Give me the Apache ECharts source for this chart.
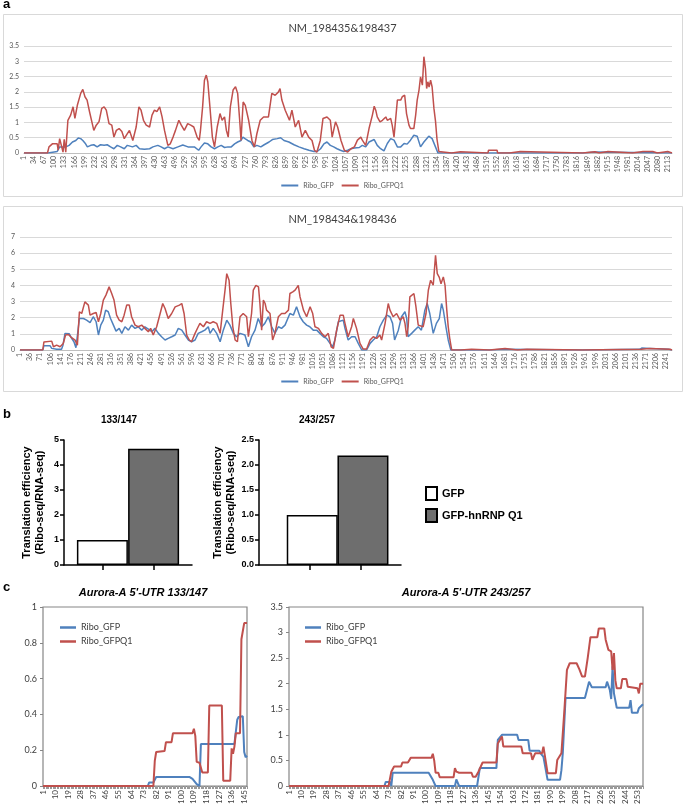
<!DOCTYPE html>
<html><head><meta charset="utf-8">
<script src="https://cdn.jsdelivr.net/npm/echarts@6/dist/echarts.min.js"></script>
<style>html,body{margin:0;padding:0;background:#fff}#c{width:685px;height:808px}</style>
</head><body><div id="c"></div>
<script>
// ---------- category counts ----------
const topLen = 2127, botLen = 2262, cLeftLen = 147, cRightLen = 257;

// ---------- panel a, NM_198435&198437 : [position, value] ----------
const topRiboGFP = [[1,0],[80,0],[83,0.05],[110,0.05],[113,0.04],[118,0.2],[138,0.2],[149,0.25],[160,0.36],[171,0.41],[179,0.49],[187,0.47],[194,0.41],[203,0.3],[209,0.2],[220,0.25],[230,0.27],[241,0.2],[252,0.27],[264,0.25],[274,0.27],[285,0.2],[296,0.14],[307,0.25],[318,0.2],[330,0.14],[340,0.25],[357,0.2],[369,0.25],[380,0.14],[396,0.12],[413,0.14],[424,0.2],[440,0.25],[451,0.2],[462,0.14],[473,0.2],[490,0.14],[506,0.2],[522,0.26],[539,0.2],[544,0.25],[560,0.2],[574,0.09],[582,0.2],[593,0.33],[604,0.3],[615,0.2],[626,0.14],[637,0.2],[648,0.25],[659,0.18],[670,0.2],[681,0.2],[692,0.3],[702,0.36],[713,0.41],[719,0.52],[726,0.47],[735,0.41],[745,0.36],[755,0.2],[765,0.25],[778,0.2],[789,0.27],[805,0.36],[816,0.44],[832,0.47],[843,0.5],[854,0.41],[870,0.36],[887,0.27],[903,0.2],[920,0.14],[936,0.09],[952,0.05],[963,0.05],[974,0.14],[985,0.3],[995,0.36],[1006,0.25],[1017,0.2],[1028,0.14],[1039,0.09],[1050,0.05],[1063,0.09],[1074,0.14],[1085,0.16],[1101,0.18],[1111,0.25],[1122,0.2],[1133,0.36],[1150,0.44],[1160,0.25],[1171,0.14],[1182,0.07],[1193,0.31],[1204,0.47],[1215,0.42],[1226,0.2],[1237,0.2],[1248,0.31],[1258,0.29],[1269,0.42],[1280,0.58],[1291,0.55],[1302,0.2],[1313,0.36],[1329,0.55],[1340,0.47],[1351,0.2],[1359,0],[1834,0],[1836,0.03],[1874,0.03],[1876,0],[2127,0]];
const topRiboGFPQ1 = [[1,0],[78,0],[83,0.2],[94,0.3],[110,0.3],[113,0.09],[118,0.47],[124,0.45],[129,0.03],[133,0.45],[138,0.03],[145,1.07],[154,1.24],[162,1.51],[168,1.13],[176,1.56],[187,1.95],[194,2.08],[201,1.84],[208,1.73],[216,1.35],[225,0.96],[230,0.74],[238,0.91],[247,1.02],[256,1.46],[264,1.51],[271,1.4],[280,0.96],[289,0.91],[296,0.52],[304,0.74],[313,0.8],[322,0.7],[330,0.47],[338,0.6],[347,0.74],[358,0.41],[369,0.85],[378,1.51],[385,1.4],[393,1.07],[402,0.91],[413,0.85],[421,1.24],[429,1.4],[437,1.35],[446,1.51],[454,1.18],[462,0.74],[468,0.47],[473,0.25],[481,0.3],[490,0.52],[498,0.74],[509,1.07],[517,0.91],[527,0.74],[538,0.96],[548,0.91],[558,0.85],[569,0.52],[576,0.41],[580,0.74],[587,1.51],[593,2.38],[599,2.55],[604,2.33],[611,1.51],[619,0.52],[626,0.2],[635,0.85],[644,1.29],[651,1.07],[659,1.18],[665,0.74],[671,0.52],[678,1.51],[687,2.06],[695,2.17],[702,1.95],[709,1.02],[713,0.41],[720,1.67],[727,1.56],[738,1.07],[749,0.41],[757,0.2],[765,0.63],[776,1.07],[787,1.18],[803,1.18],[814,1.95],[825,1.89],[836,2.0],[841,2.11],[847,1.73],[858,1.4],[872,1.07],[880,1.4],[891,0.85],[902,1.07],[913,0.52],[924,0.74],[935,0.52],[946,0.41],[954,0.09],[962,0.03],[973,0.41],[982,1.13],[995,1.18],[1006,1.07],[1012,0.52],[1023,1.02],[1030,0.85],[1041,0.41],[1052,0.09],[1063,0.03],[1074,0.14],[1085,0.2],[1095,0.42],[1106,0.52],[1111,0.42],[1122,0.25],[1133,0.8],[1144,1.24],[1150,1.53],[1155,1.4],[1160,1.18],[1169,1.02],[1177,1.07],[1188,1.18],[1193,1.07],[1204,1.13],[1209,0.91],[1215,0.52],[1220,0.52],[1226,1.73],[1231,1.78],[1237,1.73],[1242,1.84],[1250,1.89],[1256,1.29],[1264,0.91],[1269,0.8],[1280,0.8],[1286,1.24],[1291,1.73],[1297,2.06],[1302,2.49],[1308,2.22],[1313,3.15],[1318,2.77],[1322,2.11],[1326,2.33],[1330,2.16],[1335,2.38],[1340,2.16],[1346,1.45],[1351,1.05],[1356,0.45],[1362,0.05],[1367,0],[1404,0],[1406,0.04],[1433,0.04],[1435,0],[1523,0],[1525,0.09],[1553,0.09],[1555,0],[1594,0],[1596,0.05],[1629,0.05],[1631,0],[1834,0],[1836,0.04],[1874,0.04],[1876,0],[1888,0],[1890,0.05],[1917,0.05],[1919,0],[1997,0],[1999,0.05],[2032,0.05],[2034,0],[2035,0],[2037,0.05],[2064,0.05],[2066,0],[2079,0],[2081,0.05],[2113,0.05],[2115,0],[2127,0]];

// ---------- panel a, NM_198434&198436 ----------
const botRiboGFP = [[1,0],[80,0],[84,0.27],[105,0.27],[111,0.1],[128,0.04],[145,0.04],[150,0.3],[157,1.03],[172,1.0],[180,0.72],[188,0.51],[195,0.14],[200,0.14],[207,1.95],[221,1.95],[232,1.85],[244,1.7],[255,2.06],[265,1.75],[273,0.93],[281,1.54],[290,1.85],[298,2.47],[307,2.37],[315,1.95],[325,1.54],[334,1.17],[345,1.34],[354,1.03],[365,1.44],[377,1.23],[388,1.54],[400,1.34],[411,1.44],[423,1.23],[434,1.44],[446,1.3],[458,1.13],[469,1.34],[481,1.03],[492,0.82],[504,0.62],[515,0.72],[527,0.82],[539,0.93],[550,1.34],[562,1.23],[573,0.93],[585,0.62],[596,0.51],[608,0.62],[619,1.03],[631,1.13],[642,1.23],[654,1.44],[660,1.03],[671,1.34],[683,1.03],[695,0.51],[706,1.23],[718,1.85],[729,1.54],[741,1.03],[752,0.82],[764,1.03],[781,0.93],[793,0.2],[804,0.82],[816,1.23],[827,1.95],[839,1.44],[850,1.65],[862,2.06],[874,1.44],[885,1.03],[897,1.44],[908,1.34],[920,1.54],[937,2.26],[949,2.16],[960,2.68],[972,2.06],[983,1.75],[995,1.54],[1006,1.44],[1018,1.23],[1030,1.23],[1041,1.03],[1053,0.82],[1064,0.72],[1076,0.41],[1085,0.2],[1093,0.62],[1105,1.75],[1122,1.85],[1128,1.34],[1139,0.62],[1151,0.82],[1163,0.82],[1174,0.41],[1186,0],[1203,0],[1215,0.41],[1226,0.62],[1238,0.82],[1249,1.44],[1261,1.85],[1273,2.16],[1284,2.06],[1293,1.65],[1300,0.62],[1313,1.23],[1324,2.06],[1336,2.37],[1342,1.95],[1347,0.82],[1359,1.03],[1370,1.23],[1382,1.44],[1393,1.23],[1405,2.47],[1413,2.88],[1422,2.26],[1434,1.03],[1445,1.65],[1455,1.95],[1463,2.88],[1469,2.47],[1478,1.44],[1486,0.62],[1495,0],[1629,0],[1631,0.05],[1683,0.05],[1685,0],[1951,0],[1953,0.04],[2150,0.04],[2157,0.12],[2185,0.1],[2190,0.04],[2250,0.04],[2255,0],[2262,0]];
const botRiboGFPQ1 = [[1,0],[80,0],[84,0.5],[111,0.55],[117,0.2],[128,0.3],[140,0.2],[151,0.4],[159,0.93],[169,0.96],[180,0.76],[192,0.61],[200,0.3],[204,0.25],[207,2.37],[215,2.26],[226,2.98],[232,3.09],[238,2.78],[244,2.16],[255,2.26],[265,2.32],[273,1.75],[281,2.26],[290,3.09],[299,3.4],[310,3.91],[319,3.5],[327,3.09],[336,2.16],[345,1.85],[354,1.75],[362,2.16],[371,2.78],[380,2.78],[388,2.06],[400,1.54],[411,1.44],[423,1.54],[434,1.34],[446,1.13],[454,1.34],[463,0.93],[475,1.44],[487,2.26],[496,2.88],[504,2.57],[515,1.95],[527,2.26],[539,2.67],[554,2.78],[562,2.88],[570,2.26],[579,0.93],[588,0.62],[596,0.51],[608,1.03],[619,1.44],[625,1.65],[637,1.44],[648,1.75],[660,1.65],[671,1.75],[683,1.65],[695,1.03],[704,2.47],[712,3.71],[718,4.73],[726,4.32],[732,2.88],[739,1.44],[747,0.62],[755,0.51],[764,2.06],[775,2.26],[787,2.06],[793,0.82],[804,2.26],[810,3.71],[819,4.0],[828,3.91],[833,2.88],[839,1.23],[845,3.09],[851,2.88],[856,2.47],[868,2.26],[877,0.62],[885,1.03],[897,2.06],[908,2.26],[920,2.26],[932,2.47],[937,3.5],[947,3.6],[955,3.71],[966,4.0],[972,3.3],[984,2.47],[995,2.06],[1007,2.68],[1016,2.26],[1024,1.44],[1036,1.34],[1047,1.03],[1059,0.82],[1070,1.03],[1080,0.2],[1088,0.1],[1099,1.23],[1111,2.16],[1122,2.16],[1128,1.65],[1139,0.82],[1151,1.44],[1157,1.95],[1168,1.34],[1180,0.41],[1191,0.06],[1203,0.06],[1215,0.62],[1226,0.82],[1238,0.72],[1249,0.93],[1255,0.62],[1267,1.65],[1278,2.88],[1284,2.47],[1295,2.06],[1307,2.26],[1319,1.85],[1330,2.06],[1336,1.65],[1342,0.82],[1347,1.44],[1353,3.29],[1359,3.4],[1367,3.5],[1374,2.68],[1382,1.54],[1388,1.65],[1399,1.44],[1409,2.26],[1417,3.7],[1425,4.32],[1434,4.01],[1442,5.86],[1448,4.73],[1455,4.5],[1461,4.1],[1469,4.53],[1475,4.0],[1481,2.47],[1486,1.44],[1492,0.62],[1498,0],[1530,0],[1532,0.05],[1567,0.05],[1569,0],[1629,0],[1631,0.1],[1683,0.1],[1685,0],[1726,0],[1728,0.05],[1759,0.05],[1761,0],[1951,0],[1953,0.05],[2155,0.05],[2157,0.1],[2185,0.1],[2187,0.05],[2255,0.05],[2257,0],[2262,0]];

// ---------- panel b ----------
const bGroups = ['GFP', 'GFP-hnRNP Q1'];
const b133 = [1.0, 4.65];
const b243 = [1.0, 2.19];

// ---------- panel c ----------
const c133RiboGFP = [[1,0],[76,0],[77,0.02],[80,0.02],[82,0.05],[106,0.05],[108,0.04],[111,0.01],[113,0],[114,0.235],[138,0.235],[140,0.37],[141,0.385],[144,0.39],[145,0.19],[146,0.16],[147,0.17]];
const c133RiboGFPQ1 = [[1,0],[80,0],[81,0.14],[82,0.19],[88,0.195],[89,0.245],[93,0.245],[94,0.295],[108,0.295],[109,0.32],[110,0.28],[111,0.135],[113,0.13],[115,0.075],[119,0.075],[120,0.45],[129,0.45],[130,0.03],[135,0.03],[136,0.21],[137,0.18],[138,0.22],[139,0.295],[142,0.295],[143,0.82],[144,0.82],[145,0.91],[147,0.91]];
const c243RiboGFP = [[1,0],[70,0],[71,0.08],[74,0.08],[75,0],[76,0.26],[102,0.26],[105,0.12],[107,0],[121,0],[122,0.13],[124,0],[137,0],[139,0.35],[151,0.35],[152,0.9],[155,1.0],[166,1.0],[167,0.9],[174,0.9],[175,0.69],[182,0.69],[183,0.64],[185,0.57],[188,0.12],[197,0.12],[198,0.31],[199,0.64],[201,1.72],[215,1.72],[218,2.04],[220,1.93],[230,1.93],[231,2.04],[233,1.88],[234,1.7],[235,2.34],[236,1.81],[238,1.53],[247,1.53],[248,1.68],[249,1.43],[253,1.43],[254,1.52],[257,1.6]];
const c243RiboGFPQ1 = [[1,0],[73,0],[75,0.28],[77,0.38],[82,0.38],[83,0.46],[87,0.46],[89,0.55],[104,0.55],[105,0.63],[106,0.5],[107,0.26],[109,0.26],[110,0.17],[120,0.17],[121,0.35],[122,0.28],[124,0.26],[133,0.26],[134,0.18],[136,0.18],[138,0.28],[141,0.46],[151,0.46],[152,0.83],[155,0.97],[156,0.77],[169,0.77],[170,0.64],[176,0.64],[177,0.51],[179,0.64],[184,0.64],[185,0.77],[186,0.77],[188,0.25],[194,0.25],[195,0.51],[198,0.64],[200,1.42],[202,2.27],[204,2.4],[209,2.4],[211,2.28],[213,2.14],[215,2.14],[217,2.5],[219,2.91],[224,2.91],[225,3.08],[229,3.08],[230,2.86],[232,2.66],[234,2.63],[235,2.27],[236,2.6],[237,2.07],[238,1.91],[241,1.91],[242,2.09],[245,2.09],[246,1.94],[253,1.91],[254,1.81],[255,2.0],[257,2.0]];

// ---------- helpers ----------
const BLUE = '#4f81bd', RED = '#c0504d';
const cats = n => Array.from({length: n}, (_, i) => String(i + 1));
const toIdx = arr => arr.map(([p, v]) => [p - 1, v]);
const XL = 'Lato, "Open Sans", sans-serif';
const AR = '"Liberation Sans", Arial, sans-serif';

function lineSeries(name, data, xi, color, w) {
  return {type: 'line', name, xAxisIndex: xi, yAxisIndex: xi, data: toIdx(data),
    symbol: 'none', showSymbol: false, lineStyle: {color, width: w}, itemStyle: {color},
    z: name === 'Ribo_GFPQ1' ? 3 : 2, animation: false};
}
function aX(gi, n, intv) {
  return {type: 'category', gridIndex: gi, data: cats(n), boundaryGap: false,
    axisLine: {lineStyle: {color: '#bfbfbf'}}, axisTick: {show: false},
    axisLabel: {interval: intv, rotate: 90, fontSize: 7, color: '#595959', margin: 3, fontFamily: XL}};
}
function aY(gi, max) {
  return {type: 'value', gridIndex: gi, min: 0, max, interval: max > 4 ? 1 : 0.5,
    axisLine: {show: false}, axisTick: {show: false},
    splitLine: {lineStyle: {color: '#d9d9d9'}},
    axisLabel: {fontSize: 7, color: '#595959', margin: 5, fontFamily: XL}};
}
function cX(gi, n) {
  return {type: 'category', gridIndex: gi, data: cats(n), boundaryGap: false,
    axisLine: {lineStyle: {color: '#868686'}},
    axisTick: {show: true, interval: 0, length: 3, lineStyle: {color: '#9a9a9a'}},
    axisLabel: {interval: 8, rotate: 90, fontSize: 8, color: '#404040', margin: 4, fontFamily: XL}};
}
function cY(gi, max, intv) {
  return {type: 'value', gridIndex: gi, min: 0, max, interval: intv,
    axisLine: {show: false}, axisTick: {show: true, length: 3, lineStyle: {color: '#868686'}},
    splitLine: {show: false},
    axisLabel: {fontSize: 9, color: '#404040', margin: 6, fontFamily: XL}};
}
function bX(gi, min, max) {
  return {type: 'value', gridIndex: gi, min, max,
    axisLine: {onZero: false, lineStyle: {color: '#000', width: 1.5}},
    axisTick: {show: true, customValues: [1, 2], length: 5, lineStyle: {color: '#000', width: 1.5}},
    axisLabel: {show: false}, splitLine: {show: false}};
}
function bY(gi, max, intv, dec) {
  return {type: 'value', gridIndex: gi, min: 0, max, interval: intv,
    name: 'Translation efficiency\n(Ribo-seq/RNA-seq)', nameLocation: 'middle', nameGap: 18,
    nameTextStyle: {fontSize: 11, fontWeight: 'bold', fontFamily: AR, color: '#000', lineHeight: 13},
    axisLine: {show: true, lineStyle: {color: '#000', width: 1.5}},
    axisTick: {show: true, length: 4, lineStyle: {color: '#000', width: 1.5}},
    splitLine: {show: false},
    axisLabel: {fontSize: 9, fontWeight: 'bold', fontFamily: AR, color: '#000', margin: 5,
      formatter: v => v.toFixed(dec)}};
}
function barS(name, x, val, gi, fill, last) {
  const s = {type: 'bar', name, xAxisIndex: gi, yAxisIndex: gi, data: [[x, val]], barWidth: 51,
    itemStyle: {color: fill, borderColor: '#000', borderWidth: 1.5}, animation: false};
  if (last) s.barGap = '-100%';
  return s;
}

const chart = echarts.init(document.getElementById('c'), null, {renderer: 'canvas'});
const lgA = (top) => ({top, left: 'center', padding: 0, data: ['Ribo_GFP', 'Ribo_GFPQ1'], icon: 'rect',
  itemWidth: 17, itemHeight: 2, itemGap: 8, textStyle: {fontSize: 7, color: '#595959', fontFamily: XL}});
const lgC = (left) => ({top: 623, left, padding: 0, orient: 'vertical', data: ['Ribo_GFP', 'Ribo_GFPQ1'], icon: 'rect',
  itemWidth: 16, itemHeight: 2.5, itemGap: 5, textStyle: {fontSize: 9, color: '#404040', fontFamily: XL}});
const T = (text, left, top, size, extra) => Object.assign({text, left, top, padding: 0,
  textStyle: Object.assign({fontSize: size, fontWeight: 'bold', fontFamily: AR, color: '#000'}, extra || {})});

chart.setOption({
  backgroundColor: '#fff',
  animation: false,
  graphic: [
    {type: 'rect', shape: {x: 3.5, y: 14.5, width: 679, height: 182}, style: {fill: 'none', stroke: '#d9d9d9', lineWidth: 1}},
    {type: 'rect', shape: {x: 3.5, y: 206.5, width: 679, height: 185}, style: {fill: 'none', stroke: '#d9d9d9', lineWidth: 1}}
  ],
  title: [
    T('a', 3, -2, 13),
    T('NM_198435&198437', 'center', 23, 11, {fontWeight: 'normal', fontFamily: XL, color: '#404040'}),
    T('NM_198434&198436', 'center', 214, 11, {fontWeight: 'normal', fontFamily: XL, color: '#404040'}),
    T('b', 3, 408, 13),
    Object.assign(T('133/147', 119, 415, 10), {textAlign: 'center'}),
    Object.assign(T('243/257', 317, 415, 10), {textAlign: 'center'}),
    T('c', 3, 581, 13),
    Object.assign(T("Aurora-A 5'-UTR 133/147", 143, 587, 11, {fontStyle: 'italic'}), {textAlign: 'center'}),
    Object.assign(T("Aurora-A 5'-UTR 243/257", 466, 587, 11, {fontStyle: 'italic'}), {textAlign: 'center'})
  ],
  legend: [
    lgA(182), lgA(378),
    {top: 486, left: 425, padding: 0, orient: 'vertical', data: bGroups, icon: 'rect', itemWidth: 11, itemHeight: 13, itemGap: 7,
      textStyle: {fontSize: 11, fontWeight: 'bold', fontFamily: AR, color: '#000'}},
    lgC(60), lgC(305)
  ],
  grid: [
    {left: 24, top: 46, width: 648, height: 107, outerBoundsMode: 'none'},
    {left: 20, top: 237, width: 652, height: 113, outerBoundsMode: 'none'},
    {left: 64, top: 440, width: 128, height: 125, outerBoundsMode: 'none'},
    {left: 259, top: 440, width: 142, height: 125, outerBoundsMode: 'none'},
    {left: 43, top: 607, width: 204, height: 179, show: true, borderColor: '#868686', borderWidth: 1.2, outerBoundsMode: 'none'},
    {left: 289, top: 607, width: 354, height: 179, show: true, borderColor: '#868686', borderWidth: 1.2, outerBoundsMode: 'none'}
  ],
  xAxis: [aX(0, topLen, 32), aX(1, botLen, 34), bX(2, 0.25, 2.75), bX(3, 0, 2.8), cX(4, cLeftLen), cX(5, cRightLen)],
  yAxis: [aY(0, 3.5), aY(1, 7), bY(2, 5, 1, 0), bY(3, 2.5, 0.5, 1), cY(4, 1, 0.2), cY(5, 3.5, 0.5)],
  series: [
    lineSeries('Ribo_GFP', topRiboGFP, 0, BLUE, 1.5),
    lineSeries('Ribo_GFPQ1', topRiboGFPQ1, 0, RED, 1.5),
    lineSeries('Ribo_GFP', botRiboGFP, 1, BLUE, 1.5),
    lineSeries('Ribo_GFPQ1', botRiboGFPQ1, 1, RED, 1.5),
    barS(bGroups[0], 1, b133[0], 2, '#ffffff', false),
    barS(bGroups[1], 2, b133[1], 2, '#6e6e6e', true),
    barS(bGroups[0], 1.05, b243[0], 3, '#ffffff', false),
    barS(bGroups[1], 2.05, b243[1], 3, '#6e6e6e', true),
    lineSeries('Ribo_GFP', c133RiboGFP, 4, BLUE, 2),
    lineSeries('Ribo_GFPQ1', c133RiboGFPQ1, 4, RED, 2),
    lineSeries('Ribo_GFP', c243RiboGFP, 5, BLUE, 2),
    lineSeries('Ribo_GFPQ1', c243RiboGFPQ1, 5, RED, 2)
  ]
});
</script></body></html>
